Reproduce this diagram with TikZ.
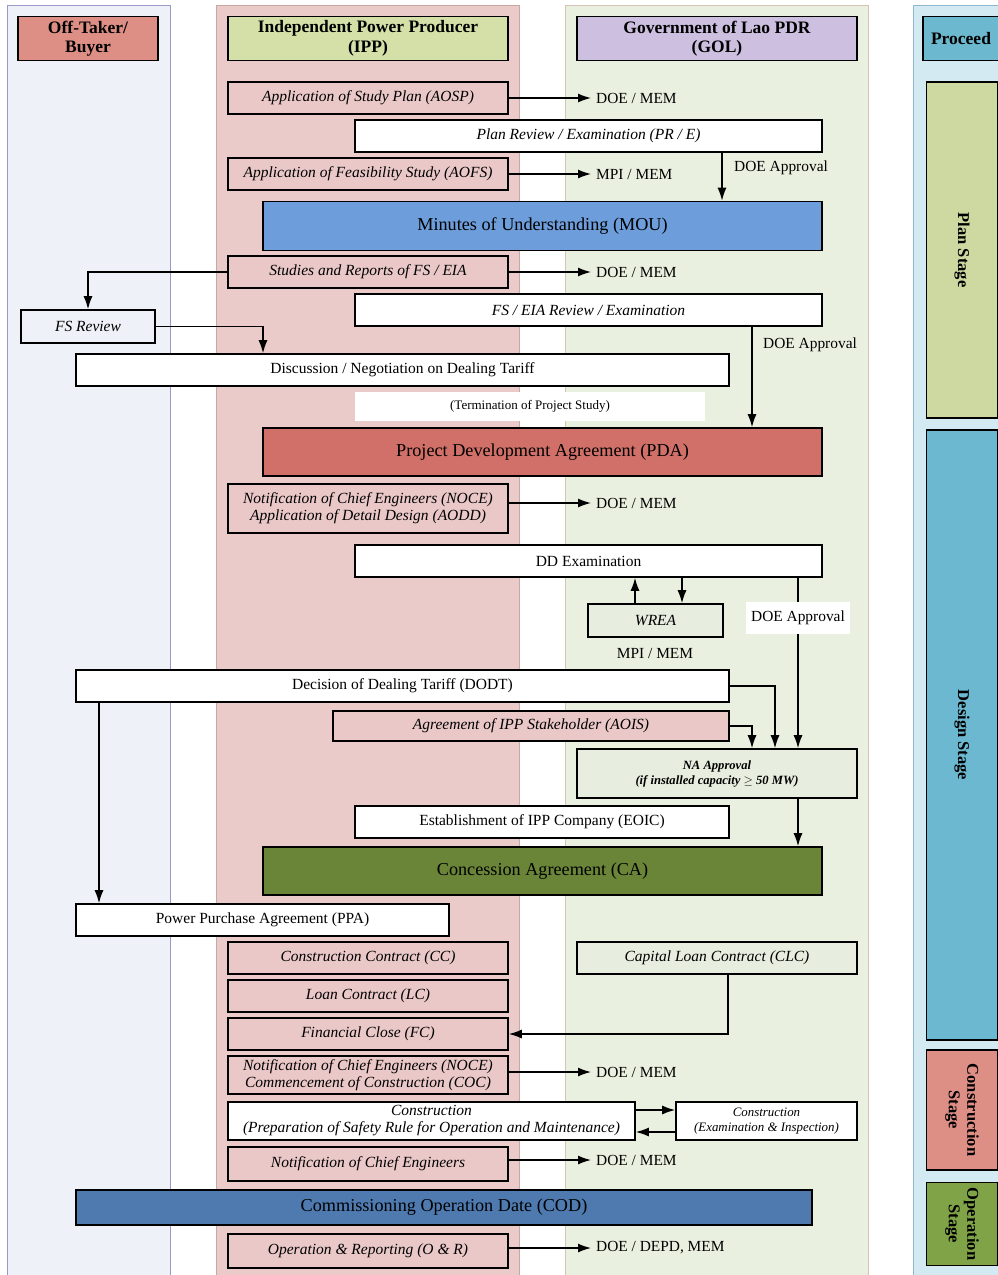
\documentclass[tikz,border=0pt]{standalone}
\usepackage{fontspec}
\setmainfont{Liberation Serif}
\usetikzlibrary{arrows.meta,calc}
\definecolor{offlane}{HTML}{EEF1F7}
\definecolor{offedge}{HTML}{9A98C8}
\definecolor{ipplane}{HTML}{EBCACA}
\definecolor{ippedge}{HTML}{C8A8A0}
\definecolor{gollane}{HTML}{EAF0E0}
\definecolor{goledge}{HTML}{D8C4B4}
\definecolor{prolane}{HTML}{D4EAF2}
\definecolor{proedge}{HTML}{90B8D0}
\definecolor{pinkbox}{HTML}{EBC8C8}
\definecolor{greenbox}{HTML}{E8EEDF}
\definecolor{hdroff}{HTML}{DE8F85}
\definecolor{hdripp}{HTML}{D4E0A8}
\definecolor{hdrgol}{HTML}{CDBFE0}
\definecolor{hdrpro}{HTML}{6CB8CF}
\definecolor{plancol}{HTML}{CDD9A0}
\definecolor{designcol}{HTML}{6CB8D0}
\definecolor{conscol}{HTML}{DE8F85}
\definecolor{opcol}{HTML}{80A348}
\definecolor{moucol}{HTML}{6D9EDB}
\definecolor{pdacol}{HTML}{D07068}
\definecolor{cacol}{HTML}{6B8538}
\definecolor{codcol}{HTML}{4E7AB0}
\tikzset{
  lane/.style={line width=0.9pt},
  bbox/.style={draw=black, line width=1.6pt, inner sep=0pt, align=center, font=\fontsize{15.5}{17}\selectfont},
  ipbox/.style={bbox, fill=pinkbox, font=\fontsize{15.5}{17}\selectfont\itshape},
  wbox/.style={bbox, fill=white},
  wibox/.style={bbox, fill=white, font=\fontsize{15.5}{17}\selectfont\itshape},
  gbox/.style={bbox, fill=greenbox, font=\fontsize{15.5}{17}\selectfont\itshape},
  bigbox/.style={bbox, font=\fontsize{18.2}{21}\selectfont},
  hdr/.style={bbox, font=\fontsize{17.5}{19.5}\selectfont\bfseries},
  stage/.style={bbox, font=\fontsize{16.5}{18.5}\selectfont\bfseries},
  lbl/.style={inner sep=0pt, anchor=west, font=\fontsize{15.4}{17}\selectfont},
  arr/.style={line width=1.4pt, -{Latex[length=13pt,width=9pt]}},
  larr/.style={arr, shorten >=5pt},
  ln/.style={line width=1.4pt}
}
\begin{document}
\begin{tikzpicture}[x=1pt,y=-1pt]
\useasboundingbox (0,0) rectangle (998,1275);
% lanes
\fill[offlane] (7,5) rectangle (170,1280);
\draw[lane,offedge] (7,1280) -- (7,5) -- (170,5) -- (170,1280);
\fill[ipplane] (216,5) rectangle (519,1280);
\draw[lane,ippedge] (216,1280) -- (216,5) -- (519,5) -- (519,1280);
\fill[gollane] (565,5) rectangle (868,1280);
\draw[lane,goledge] (565,1280) -- (565,5) -- (868,5) -- (868,1280);
\fill[prolane] (913,5) rectangle (1002,1280);
\draw[lane,proedge] (913,1280) -- (913,5) -- (1002,5);
% headers
\node[hdr, fill=hdroff, minimum width=140pt, minimum height=44pt] (hoff) at (88,38.5) {Off-Taker/\\Buyer};
\node[hdr, fill=hdripp, minimum width=280pt, minimum height=44pt] (hipp) at (368,38.5) {Independent Power Producer\\(IPP)};
\node[hdr, fill=hdrgol, minimum width=280pt, minimum height=44pt] (hgol) at (717,38.5) {Government of Lao PDR\\(GOL)};
\node[hdr, fill=hdrpro, minimum width=76pt, minimum height=44pt] (hpro) at (961,38.5) {Proceed};
% stages
\node[stage, fill=plancol, minimum width=336pt, minimum height=71pt, rotate=-90] (splan) at (962,250) {Plan Stage};
\node[stage, fill=designcol, minimum width=610pt, minimum height=71pt, rotate=-90] (sdes) at (962,735) {Design Stage};
\node[stage, fill=conscol, minimum width=120pt, minimum height=71pt, rotate=-90] (scons) at (962,1110) {Construction\\Stage};
\node[stage, fill=opcol, minimum width=83pt, minimum height=71pt, rotate=-90] (sop) at (962,1224) {Operation\\Stage};
% x positions for vertical connectors
\coordinate (xA) at (722,0);
\coordinate (xB) at (263,0);
\coordinate (xC) at (752,0);
\coordinate (xD) at (635,0);
\coordinate (xE) at (682,0);
\coordinate (xF) at (798,0);
\coordinate (xG) at (775,0);
\coordinate (xH) at (752,0);
\coordinate (xI) at (99,0);
\coordinate (xJ) at (728,0);
% boxes
\node[ipbox, minimum width=280pt, minimum height=32pt] (aosp) at (368,98) {Application of Study Plan (AOSP)};
\node[lbl] (doe1) at (596,98) {DOE / MEM};
\node[wibox, minimum width=467pt, minimum height=32pt] (pre) at (588.5,136) {Plan Review / Examination (PR / E)};
\node[ipbox, minimum width=280pt, minimum height=32pt] (aofs) at (368,174) {Application of Feasibility Study (AOFS)};
\node[lbl] (mpi1) at (596,174) {MPI / MEM};
\node[lbl] (appr1) at (734,168) {DOE Approval};
\node[bigbox, fill=moucol, minimum width=559pt, minimum height=49pt] (mou) at (542.5,226) {Minutes of Understanding (MOU)};
\node[ipbox, minimum width=280pt, minimum height=32pt] (sr) at (368,272) {Studies and Reports of FS / EIA};
\node[lbl] (doe2) at (596,272) {DOE / MEM};
\node[wibox, minimum width=467pt, minimum height=32pt] (fsr2) at (588.5,310) {FS / EIA Review / Examination};
\node[bbox, fill=offlane, font=\fontsize{15.5}{17}\selectfont\itshape, minimum width=134pt, minimum height=33pt] (fsr) at (88,326.5) {FS Review};
\node[lbl] (appr2) at (763,345) {DOE Approval};
\node[wbox, minimum width=653pt, minimum height=32pt] (disc) at (402.5,370) {Discussion / Negotiation on Dealing Tariff};
\node[fill=white, inner sep=0pt, minimum width=350pt, minimum height=29pt, font=\fontsize{13}{15}\selectfont] (term) at (530,406.5) {(Termination of Project Study)};
\node[bigbox, fill=pdacol, minimum width=559pt, minimum height=48pt] (pda) at (542.5,452) {Project Development Agreement (PDA)};
\node[ipbox, minimum width=280pt, minimum height=49pt] (noce1) at (368,508.5) {Notification of Chief Engineers (NOCE)\\Application of Detail Design (AODD)};
\node[lbl] (doe3) at (596,503) {DOE / MEM};
\node[wbox, minimum width=467pt, minimum height=32pt] (dd) at (588.5,561) {DD Examination};
\node[gbox, minimum width=135pt, minimum height=33pt] (wrea) at (655.5,620.5) {WREA};
\node[inner sep=0pt, font=\fontsize{15.4}{17}\selectfont] (mpi2) at (655,653) {MPI / MEM};
\node[wbox, minimum width=653pt, minimum height=32pt] (dodt) at (402.5,686) {Decision of Dealing Tariff (DODT)};
\node[ipbox, minimum width=396pt, minimum height=30pt] (aois) at (531,726) {Agreement of IPP Stakeholder (AOIS)};
\node[bbox, fill=greenbox, font=\fontsize{12.6}{15}\selectfont\bfseries\itshape, minimum width=280pt, minimum height=49pt] (na) at (717,773.5) {NA Approval\\(if installed capacity $\geq$ 50 MW)};
\node[wbox, minimum width=374pt, minimum height=32pt] (eoic) at (542,822) {Establishment of IPP Company (EOIC)};
\node[bigbox, fill=cacol, minimum width=559pt, minimum height=48pt] (ca) at (542.5,871) {Concession Agreement (CA)};
\node[wbox, minimum width=373pt, minimum height=32pt] (ppa) at (262.5,920) {Power Purchase Agreement (PPA)};
\node[ipbox, minimum width=280pt, minimum height=32pt] (cc) at (368,958) {Construction Contract (CC)};
\node[gbox, minimum width=280pt, minimum height=32pt] (clc) at (717,958) {Capital Loan Contract (CLC)};
\node[ipbox, minimum width=280pt, minimum height=32pt] (lc) at (368,996) {Loan Contract (LC)};
\node[ipbox, minimum width=280pt, minimum height=32pt] (fc) at (368,1034) {Financial Close (FC)};
\node[ipbox, minimum width=280pt, minimum height=38pt] (noce2) at (368,1075) {Notification of Chief Engineers (NOCE)\\Commencement of Construction (COC)};
\node[lbl] (doe4) at (596,1072) {DOE / MEM};
\node[wibox, minimum width=407pt, minimum height=38pt] (cons) at (431.5,1121) {Construction\\(Preparation of Safety Rule for Operation and Maintenance)};
\node[bbox, fill=white, font=\fontsize{12.9}{15}\selectfont\itshape, minimum width=181pt, minimum height=38pt] (cei) at (766.5,1121) {Construction\\(Examination \& Inspection)};
\node[ipbox, minimum width=280pt, minimum height=34pt] (nce) at (368,1164) {Notification of Chief Engineers};
\node[lbl] (doe5) at (596,1160) {DOE / MEM};
\node[bigbox, fill=codcol, minimum width=736pt, minimum height=35pt] (cod) at (444,1207.5) {Commissioning Operation Date (COD)};
\node[ipbox, minimum width=280pt, minimum height=34pt] (or) at (368,1251) {Operation \& Reporting (O \& R)};
\node[lbl] (doe6) at (596,1248) {DOE / DEPD, MEM};
% connectors
\draw[larr] (aosp.east) -- (doe1.west);
\draw[larr] (aofs.east) -- (mpi1.west);
\draw[arr] (pre.south -| xA) -- (mou.north -| xA);
\draw[larr] (sr.east) -- (doe2.west);
\draw[arr] (sr.west) -| (fsr.north);
\draw[arr] (fsr.east) -| (disc.north -| xB);
\draw[arr] (fsr2.south -| xC) -- (pda.north -| xC);
\draw[larr] (noce1.east |- doe3.west) -- (doe3.west);
\draw[arr] (wrea.north -| xD) -- (dd.south -| xD);
\draw[arr] (dd.south -| xE) -- (wrea.north -| xE);
\draw[arr] (dd.south -| xF) -- (na.north -| xF);
\node[lbl, fill=white, inner xsep=5pt, minimum height=32pt, anchor=center] (appr3) at (798,618) {DOE Approval};
\draw[arr] (dodt.east) -| (na.north -| xG);
\draw[arr] (aois.east) -| (na.north -| xH);
\draw[arr] (dodt.south -| xI) -- (ppa.north -| xI);
\draw[arr] (na.south -| xF) -- (ca.north -| xF);
\draw[arr] (clc.south -| xJ) |- (fc.east);
\draw[larr] (noce2.east |- doe4.west) -- (doe4.west);
\draw[arr] ([yshift=11pt]cons.east) -- ([yshift=11pt]cei.west);
\draw[arr] ([yshift=-11pt]cei.west) -- ([yshift=-11pt]cons.east);
\draw[larr] (nce.east |- doe5.west) -- (doe5.west);
\draw[larr] (or.east |- doe6.west) -- (doe6.west);
\end{tikzpicture}
\end{document}
